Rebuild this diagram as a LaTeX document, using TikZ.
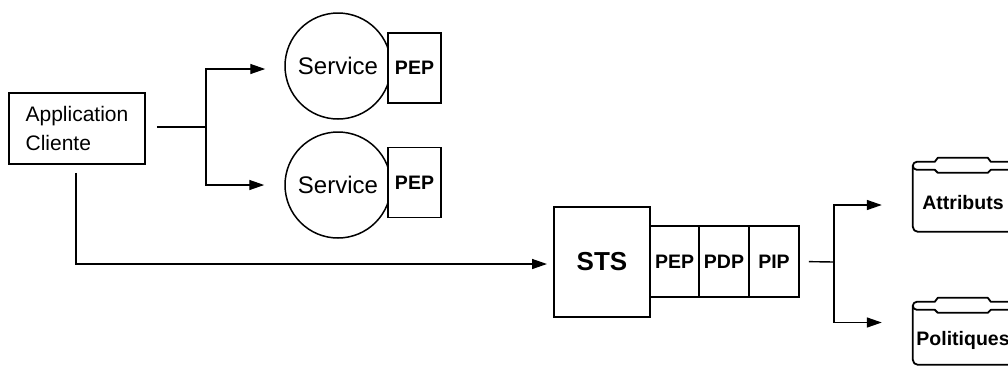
\documentclass[tikz,border=0pt]{standalone}
\usepackage{fontspec}
\setmainfont{Liberation Sans}
\usetikzlibrary{arrows.meta}

\tikzset{
  box/.style={draw, line width=1.8pt, fill=white, inner sep=0pt},
  ball/.style={draw, circle, line width=1.5pt, fill=white, inner sep=0pt,
    font=\fontsize{24}{28}\selectfont},
  tag/.style={box, font=\bfseries\fontsize{19.5}{22}\selectfont},
  link/.style={line width=1.4pt},
  tip/.style={-{Triangle[length=15pt,width=10pt]}},
  drum/.style={line width=1.8pt, line join=round},
  store/.style={inner sep=0pt, minimum width=100pt,
    font=\bfseries\fontsize{19.5}{22}\selectfont},
}

% cylinder-like data store drawn around a named node: #1 name, #2 height
\newcommand{\drawdrum}[2]{%
  \begin{scope}[shift={(#1.north west)}]
    \draw[drum] (0,8) -- (0,#2-5) to[out=-90,in=180] (5,#2) -- (104,#2);
    \draw[drum, fill=white] (0,8) to[out=90,in=180] (4,4) -- (22,4)
      -- (25,0) -- (75,0) -- (78,4) -- (96,4) to[out=0,in=90] (100,8)
      to[out=-90,in=0] (96,12) -- (78,12) -- (75,15) -- (25,15) -- (22,12)
      -- (4,12) to[out=180,in=-90] cycle;
  \end{scope}}

\begin{document}
\begin{tikzpicture}[x=1pt,y=-1pt]
\useasboundingbox (0,0) rectangle (1008,368);
\clip (0,0) rectangle (1008,368);

% client application
\node[box, minimum width=136pt, minimum height=71pt, align=left,
  font=\fontsize{21}{29}\selectfont] (app) at (77,128.5) {Application\\Cliente};

% services with their enforcement points
\node[ball, minimum size=106pt] (svc1) at (338,66) {Service};
\node[ball, minimum size=106pt] (svc2) at (338,185) {Service};
\node[tag, minimum width=53pt, minimum height=70pt] (pep1) at (414.5,68) {PEP};
\node[tag, minimum width=53pt, minimum height=70pt] (pep2) at (414.5,182.5) {PEP};

% security token service
\node[box, line width=2pt, minimum width=96pt, minimum height=110pt,
  font=\bfseries\fontsize{26}{30}\selectfont] (sts) at (602,262) {STS};
\node[tag, minimum width=49pt, minimum height=71pt] (pep3) at (674.5,261.5) {PEP};
\node[tag, minimum width=50pt, minimum height=71pt] (pdp) at (724,261.5) {PDP};
\node[tag, minimum width=50pt, minimum height=71pt] (pip) at (774,261.5) {PIP};

% data stores
\node[store, minimum height=74pt] (attr) at (963,195) {};
\drawdrum{attr}{74}
\node[store] at (963,203) {Attributs};
\node[store, minimum height=67pt] (pol) at (963,331.5) {};
\drawdrum{pol}{67}
\node[store] at (963,340) {Politiques};

% connectors
\coordinate (fork1) at (206,127);
\coordinate (fork2) at (834,262);
\draw[link, shorten <=11pt] (app.east |- fork1) -- (fork1);
\draw[link, tip, shorten >=19pt] (fork1) |- ([yshift=-3pt]svc1.west);
\draw[link, tip, shorten >=20pt] (fork1) |- (svc2.west);
\draw[link, tip, shorten <=8pt, shorten >=6pt] (app.south -| 76,0) |- ([yshift=-2pt]sts.west);
\draw[link, shorten <=9pt] (pip.east) -- (fork2);
\draw[link, tip, shorten >=31pt] (fork2) |- ([yshift=-10pt]attr.west);
\draw[link, tip, shorten >=31pt] (fork2) |- ([yshift=9pt]pol.west);
\end{tikzpicture}
\end{document}
